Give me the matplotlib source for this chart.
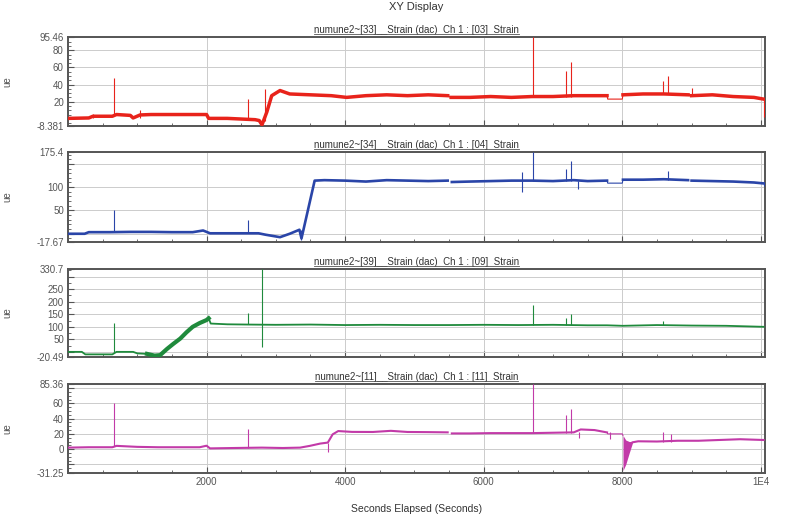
import numpy as np
import matplotlib
matplotlib.use("Agg")
import matplotlib.pyplot as plt
from matplotlib.ticker import MultipleLocator, FixedLocator, FixedFormatter
from matplotlib.lines import Line2D

plt.rcParams['font.family'] = ['Liberation Sans', 'DejaVu Sans']

nan = np.nan

# --- canal 1 (vermelho) ---
red_t = [0, 300, 360, 640, 700, 900, 940, 1040, 1200, 1500, 1800, 2000, 2030, 2300, 2700, 2760, 2800,
         2870, 2940, 3060, 3200, 3500, 3800, 4020, 4300, 4600, 4900, 5200, 5480, 5500, 5530, 5800, 6100,
         6400, 6700, 7000, 7300, 7600, 7780, 7800, 8010, 8300, 8600, 8950, 8970, 9000, 9300, 9600, 9900, 10040]
red_v = [0.5, 1, 3, 3, 5, 4, 1, 4.5, 5, 5, 5, 5, 0.5, 0.5, -1, -2, -7,
         8, 27, 33, 29, 28, 27, 25, 27, 28, 27, 28, 27, nan, 25, 25, 26,
         25, 26, 26, 27, 27, 27, nan, 28, 29, 29, 28, nan, 27, 28, 26, 25, 23]
red_flat_t = [7780, 7790, 8000, 8010]
red_flat_v = [27, 23, 23, 28]
red_spk_t = [360, 665, 1040, 2600, 2840, 6710, 7190, 7260, 8590, 8660, 9000, 10040]
red_spk_lo = [1, 4, 1, 0.5, -3, 26, 26, 26, 29, 29, 27, 2]
red_spk_hi = [6, 48, 10, 23, 35, 95.46, 55.6, 66, 43.6, 49.6, 36, 23]

# --- canal 2 (azul) ---
blue_t = [0, 240, 300, 600, 900, 1200, 1500, 1800, 1950, 2050, 2400, 2750, 2850, 3060, 3200, 3340,
          3370, 3560, 3700, 4000, 4300, 4600, 4900, 5200, 5480, 5500, 5540, 5800, 6100, 6400, 6700,
          7000, 7300, 7500, 7780, 7800, 8010, 8300, 8600, 8950, 8970, 9000, 9300, 9600, 9900, 10040]
blue_v = [0, 0, 3.4, 3.4, 4, 4, 3.4, 3.4, 7, 1, 1, 1, -2, -7.3, 0, 8.6,
          -10, 114, 115, 114, 112, 115, 114, 113, 114, nan, 111, 112, 113, 114, 114,
          113, 115, 113, 114, nan, 116, 116, 117, 115, nan, 114, 113, 112, 110, 108]
blue_flat_t = [7780, 7790, 8000, 8010]
blue_flat_v = [114, 108.6, 108.6, 116]
blue_spk_t = [665, 2600, 3370, 6550, 6710, 7190, 7260, 7360, 8660, 10040]
blue_spk_lo = [3.4, 1, -14, 89, 114, 114, 114, 96.6, 116, 103]
blue_spk_hi = [52, 28.5, 8, 132, 175.4, 139.5, 157, 114, 134, 110]

# --- canal 3 (verde) ---
green_t = [0, 200, 250, 640, 700, 940, 1000, 1140, 1250, 1330, 1430, 1520, 1620, 1710, 1800, 1900,
           2000, 2030, 2060, 2300, 2600, 3000, 3500, 4000, 4500, 5000, 5500, 6000, 6500, 7000, 7500,
           7780, 8010, 8500, 9000, 9500, 10040]
green_v = [0, 0, -10, -10, 0, 0, -6, -8, -15, -13, 12, 32, 53, 78, 100, 115,
           127, 134, 113, 110, 109, 108, 109, 107, 108, 107, 107, 108, 107, 108, 106,
           106, 104, 107, 105, 104, 100]
green_spk_t = [665, 2600, 2800, 6710, 7190, 7260, 8590]
green_spk_lo = [0, 110, 19, 108, 107, 107, 107]
green_spk_hi = [116, 154, 330.7, 188, 134, 150, 123]

# --- canal 4 (magenta) ---
mag_t = [0, 300, 640, 700, 1000, 1300, 1600, 1900, 2000, 2050, 2400, 2800, 3100, 3350, 3490, 3640,
         3750, 3820, 3900, 4100, 4400, 4660, 4900, 5200, 5480, 5500, 5540, 5800, 6100, 6400, 6700,
         7000, 7300, 7400, 7600, 7780, 7800, 8150, 8230, 8500, 8800, 9100, 9400, 9700, 10040]
mag_v = [2, 2.5, 2.5, 4.3, 3, 2.5, 2.5, 2.5, 4.5, 1, 1.5, 2, 1.5, 2, 4.3, 7.3,
         8.6, 19.4, 23.7, 22.6, 22.5, 24, 22.5, 22.3, 22, nan, 20.6, 20.6, 21, 21, 21,
         21.5, 22, 25.8, 25, 21.9, nan, 9, 10.3, 10, 11, 11, 12, 13, 12]
mag_flat_t = [7780, 7790, 8000, 8010]
mag_flat_v = [21.9, 20, 20, 18]
mag_drop_t = [8010, 8050, 8100, 8150]
mag_drop_lo = [-28, -20, -5, 9]
mag_drop_hi = [18, 12, 10, 10]
mag_spk_t = [665, 2600, 3750, 6710, 7190, 7260, 7370, 7830, 8590, 8700]
mag_spk_lo = [4.3, 1.5, -3.4, 21, 21, 21, 15, 13, 10, 10]
mag_spk_hi = [60, 26.7, 8.6, 85.36, 45, 52.5, 22, 21.9, 22, 20]

titles = ["numune2~[33]__Strain (dac)  Ch 1 : [03]  Strain",
          "numune2~[34]__Strain (dac)  Ch 1 : [04]  Strain",
          "numune2~[39]__Strain (dac)  Ch 1 : [09]  Strain",
          "numune2~[11]__Strain (dac)  Ch 1 : [11]  Strain"]
ylims = [(-8.381, 95.46), (-17.67, 175.4), (-20.49, 330.7), (-31.25, 85.36)]
yticks = [[-8.381, 20, 40, 60, 80, 95.46],
          [-17.67, 0, 50, 100, 150, 175.4],
          [-20.49, 0, 50, 100, 150, 200, 250, 300, 330.7],
          [-31.25, -20, 0, 20, 40, 60, 80, 85.36]]
ylabels = [["-8.381", "20", "40", "60", "80", "95.46"],
           ["-17.67", "", "50", "100", "", "175.4"],
           ["-20.49", "", "50", "100", "150", "200", "250", "", "330.7"],
           ["-31.25", "", "0", "20", "40", "60", "", "85.36"]]
yminor = [5, 10, 25, 5]
xticks = [2000, 4000, 6000, 8000, 10000]
xticklabels = ["2000", "4000", "6000", "8000", "1E4"]

colors = ["#e8231b", "#2a45a8", "#1f8a3c", "#c23aa8"]
series = [(red_t, red_v, red_flat_t, red_flat_v, red_spk_t, red_spk_lo, red_spk_hi, 2.5),
          (blue_t, blue_v, blue_flat_t, blue_flat_v, blue_spk_t, blue_spk_lo, blue_spk_hi, 1.9),
          (green_t, green_v, None, None, green_spk_t, green_spk_lo, green_spk_hi, 1.3),
          (mag_t, mag_v, mag_flat_t, mag_flat_v, mag_spk_t, mag_spk_lo, mag_spk_hi, 1.5)]

fig = plt.figure(figsize=(7.98, 5.24), dpi=100)
W, H = 798, 524
boxes = [(37, 126), (152, 242), (269, 357), (384, 473)]
axes = []
for i, (top, bot) in enumerate(boxes):
    ax = fig.add_axes([68 / W, 1 - bot / H, 697 / W, (bot - top) / H])
    axes.append(ax)
    t, v, ft, fv, st, slo, shi, lw = series[i]
    c = colors[i]
    ax.plot(t, v, color=c, lw=lw, solid_joinstyle='round', zorder=3)
    if ft is not None:
        ax.plot(ft, fv, color=c, lw=0.8, zorder=3)
    ax.vlines(st, slo, shi, color=c, lw=0.8, zorder=3)
    if i == 2:
        ta = np.array(t)
        va = np.array(v)
        m = (ta >= 1100) & (ta <= 2040)
        ax.plot(ta[m], va[m], color=c, lw=3, solid_joinstyle='round', zorder=3)
    if i == 3:
        ax.fill_between(mag_drop_t, mag_drop_lo, mag_drop_hi, color=c, lw=0, zorder=3)

    ax.set_xlim(0, 10060)
    ax.set_ylim(*ylims[i])
    ax.yaxis.set_major_locator(FixedLocator(yticks[i]))
    ax.yaxis.set_major_formatter(FixedFormatter(ylabels[i]))
    ax.yaxis.set_minor_locator(MultipleLocator(yminor[i]))
    ax.set_xticks(xticks)
    ax.xaxis.set_minor_locator(MultipleLocator(500))
    if i == 3:
        ax.set_xticklabels(xticklabels)
        ax.set_xlabel("Seconds Elapsed (Seconds)", fontsize=7.5, color="#333333", labelpad=12)
    else:
        ax.set_xticklabels([])
    ax.tick_params(which='both', direction='in', labelsize=7, colors="#555555", pad=3)
    ax.tick_params(which='major', length=4, width=0.8)
    ax.tick_params(which='minor', length=2, width=0.6)
    ax.grid(True, which='major', color="#cccccc", lw=0.7)
    ax.set_axisbelow(True)
    for s in ax.spines.values():
        s.set_color("#555555")
        s.set_linewidth(1.4)
    ax.set_ylabel("ue", fontsize=7, color="#555555")
    ax.yaxis.set_label_coords(-0.08, 0.5)
    ax.set_title(titles[i], fontsize=7, color="#333333", pad=3)

fig.text(416 / W, 1 - 7 / H, "XY Display", ha='center', va='center', fontsize=8, color="#333333")

# sublinhado dos títulos
fig.canvas.draw()
r = fig.canvas.get_renderer()
for ax in axes:
    bb = ax.title.get_window_extent(r)
    y = (bb.y0 + 1) / H
    fig.add_artist(Line2D([bb.x0 / W, bb.x1 / W], [y, y], color="#555555", lw=0.6))

fig.savefig("out.png", dpi=100)
